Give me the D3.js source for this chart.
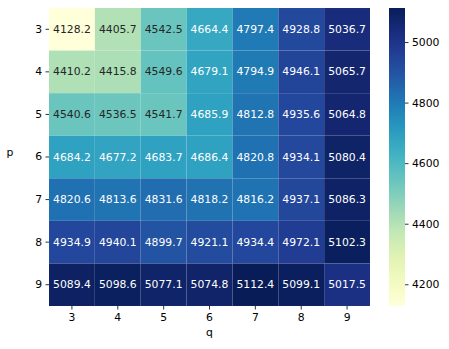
<!DOCTYPE html>
<html>
<head>
<meta charset="utf-8">
<script src="https://cdn.jsdelivr.net/npm/d3@7"></script>
<style>
  body { margin: 0; background: #fff; }
  text { font-family: "DejaVu Sans", sans-serif; }
</style>
</head>
<body>
<div id="container"></div>
<script>
/* DATA */
const pVals = [3, 4, 5, 6, 7, 8, 9];
const qVals = [3, 4, 5, 6, 7, 8, 9];
const row3 = [4128.2, 4405.7, 4542.5, 4664.4, 4797.4, 4928.8, 5036.7];
const row4 = [4410.2, 4415.8, 4549.6, 4679.1, 4794.9, 4946.1, 5065.7];
const row5 = [4540.6, 4536.5, 4541.7, 4685.9, 4812.8, 4935.6, 5064.8];
const row6 = [4684.2, 4677.2, 4683.7, 4686.4, 4820.8, 4934.1, 5080.4];
const row7 = [4820.6, 4813.6, 4831.6, 4818.2, 4816.2, 4937.1, 5086.3];
const row8 = [4934.9, 4940.1, 4899.7, 4921.1, 4934.4, 4972.1, 5102.3];
const row9 = [5089.4, 5098.6, 5077.1, 5074.8, 5112.4, 5099.1, 5017.5];
const rows = [row3, row4, row5, row6, row7, row8, row9];
const cbarTicks = [4200, 4400, 4600, 4800, 5000];

/* CONSTANTS */
const W = 449, H = 349;
const mLeft = 49, mRight = 370, mTop = 8, mBottom = 306;
const cbLeft = 389, cbRight = 405;
const fs = 10.8;

const cells = [];
rows.forEach((r, i) => r.forEach((v, j) => cells.push({ p: pVals[i], q: qVals[j], v: v })));

const vmin = d3.min(cells, d => d.v), vmax = d3.max(cells, d => d.v);

const svg = d3.select("#container").append("svg")
  .attr("width", W).attr("height", H);

/* SCALES */
const xScale = d3.scaleBand().domain(qVals).range([mLeft, mRight]);
const yScale = d3.scaleBand().domain(pVals).range([mTop, mBottom]);
const color = d3.scaleSequential(d3.interpolateYlGnBu).domain([vmin, vmax]);

function lum(c) {
  const rgb = d3.rgb(c);
  const f = x => { x /= 255; return x <= 0.03928 ? x / 12.92 : Math.pow((x + 0.055) / 1.055, 2.4); };
  return 0.2126 * f(rgb.r) + 0.7152 * f(rgb.g) + 0.0722 * f(rgb.b);
}

// cells
svg.selectAll("rect.cell")
  .data(cells)
  .join("rect")
  .attr("class", "cell")
  .attr("x", d => xScale(d.q))
  .attr("y", d => yScale(d.p))
  .attr("width", xScale.bandwidth())
  .attr("height", yScale.bandwidth())
  .attr("fill", d => color(d.v))
  .attr("stroke", "rgba(255,255,255,0.06)")
  .attr("stroke-width", 0.5);

// annotations
svg.selectAll("text.ann")
  .data(cells)
  .join("text")
  .attr("class", "ann")
  .attr("x", d => xScale(d.q) + xScale.bandwidth() / 2)
  .attr("y", d => yScale(d.p) + yScale.bandwidth() / 2)
  .attr("text-anchor", "middle")
  .attr("dominant-baseline", "central")
  .attr("font-size", fs)
  .attr("fill", d => lum(color(d.v)) > 0.408 ? "#262626" : "#ffffff")
  .text(d => d.v.toFixed(1));

/* AXES */
const xAxis = d3.axisBottom(xScale).tickSize(3.5).tickPadding(3.5);
const yAxis = d3.axisLeft(yScale).tickSize(3.5).tickPadding(3.5);

const gx = svg.append("g")
  .attr("transform", `translate(0, ${mBottom})`)
  .call(xAxis);
const gy = svg.append("g")
  .attr("transform", `translate(${mLeft}, 0)`)
  .call(yAxis);
[gx, gy].forEach(g => {
  g.select(".domain").remove();
  g.selectAll("text").attr("font-size", fs).attr("fill", "#000").style("font-family", "DejaVu Sans");
  g.selectAll("line").attr("stroke", "#000").attr("stroke-width", 0.8);
});

svg.append("text").attr("x", (mLeft + mRight) / 2).attr("y", 336)
  .attr("text-anchor", "middle").attr("font-size", fs).text("q");
svg.append("text").attr("x", 10).attr("y", 156)
  .attr("text-anchor", "middle").attr("font-size", fs).text("p");

/* COLORBAR */
const cbScale = d3.scaleLinear().domain([vmin, vmax]).range([mBottom, mTop]);
const defs = svg.append("defs");
const grad = defs.append("linearGradient").attr("id", "cb")
  .attr("x1", 0).attr("y1", 1).attr("x2", 0).attr("y2", 0);
d3.range(0, 1.0001, 0.05).forEach(t => {
  grad.append("stop").attr("offset", t).attr("stop-color", d3.interpolateYlGnBu(t));
});
svg.append("rect")
  .attr("x", cbLeft).attr("y", mTop)
  .attr("width", cbRight - cbLeft).attr("height", mBottom - mTop)
  .attr("fill", "url(#cb)");

const cbAxis = d3.axisRight(cbScale).tickValues(cbarTicks).tickFormat(d3.format("d"))
  .tickSize(3.5).tickPadding(3.5);
const gc = svg.append("g")
  .attr("transform", `translate(${cbRight}, 0)`)
  .call(cbAxis);
gc.select(".domain").remove();
gc.selectAll("text").attr("font-size", fs).attr("fill", "#000").style("font-family", "DejaVu Sans");
gc.selectAll("line").attr("stroke", "#000").attr("stroke-width", 0.8);
</script>
</body>
</html>
